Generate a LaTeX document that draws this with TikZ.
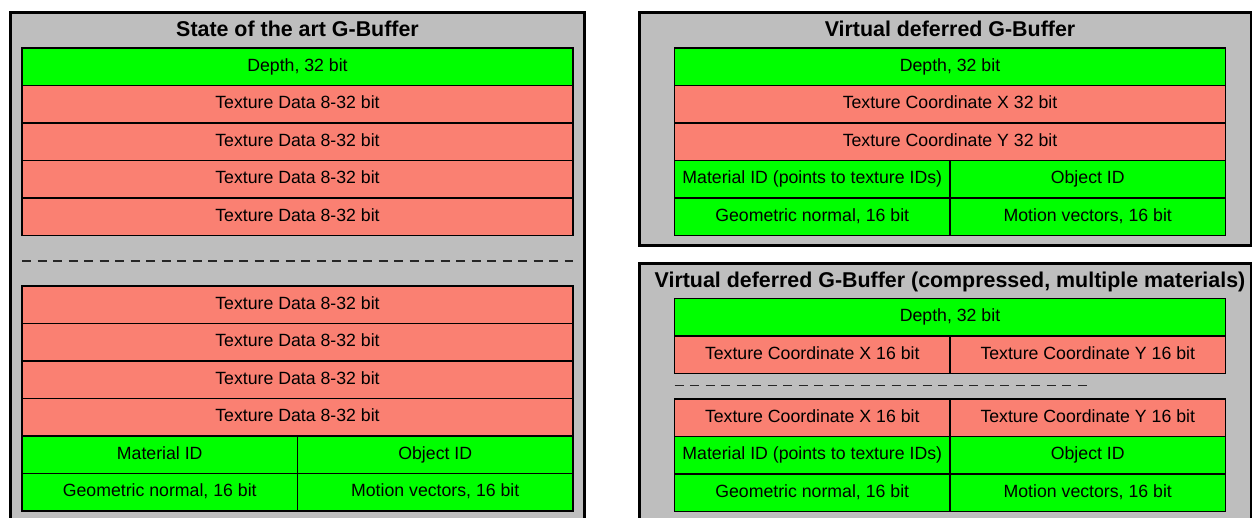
\documentclass[tikz,border=0pt]{standalone}
\usepackage{fontspec}
\setmainfont{Liberation Sans}
\usetikzlibrary{positioning,fit}
\definecolor{panelgray}{RGB}{190,190,190}
\definecolor{bufgreen}{RGB}{0,255,0}
\definecolor{bufsalmon}{RGB}{250,128,114}

\begin{document}
\begin{tikzpicture}[x=1pt, y=-1pt, node distance = 0pt, panel/.style={rectangle, draw, line width = 3pt, fill=panelgray, inner sep = 0pt}, title/.style={inner sep = 0pt, text height = 15pt, text depth = 4pt, font=\bfseries\fontsize{21.4}{24}\selectfont}, row/.style={rectangle, draw, line width = 1.5pt, minimum width = 551pt, minimum height = 37.5pt, inner sep = 0pt, outer sep = 0pt, text height = 13pt, text depth = 4pt, font=\fontsize{17.7}{20}\selectfont}, half/.style={row, minimum width = 275.5pt}, green/.style={fill=bufgreen}, salmon/.style={fill=bufsalmon}, gapline/.style={draw=black!85, line width = 1.4pt, dash pattern = on 9pt off 6.5pt}]
      \useasboundingbox (0,0) rectangle (1252,518);

      % left: state of the art
      \node [panel, fit={(10.5,13) (584.5,540)}] (stateBox) {};

      \node [row, green] (depthA) at (297.5,66.75) {Depth, 32 bit};

      \node [title, above = 7.5pt of depthA] (stateTitle) {State of the art G-Buffer};

      \node [row, salmon, below = of depthA] (texA1) {Texture Data 8-32 bit};

      \node [row, salmon, below = of texA1] (texA2) {Texture Data 8-32 bit};

      \node [row, salmon, below = of texA2] (texA3) {Texture Data 8-32 bit};

      \node [row, salmon, below = of texA3] (texA4) {Texture Data 8-32 bit};

      \node [row, salmon, below = 50.5pt of texA4] (texA5) {Texture Data 8-32 bit};

      \node [row, salmon, below = of texA5] (texA6) {Texture Data 8-32 bit};

      \node [row, salmon, below = of texA6] (texA7) {Texture Data 8-32 bit};

      \node [row, salmon, below = of texA7] (texA8) {Texture Data 8-32 bit};

      \node [half, green, anchor = north west] (matA) at (texA8.south west) {Material ID};

      \node [half, green, right = of matA] (objA) {Object ID};

      \node [half, green, below = of matA] (geoA) {Geometric normal, 16 bit};

      \node [half, green, below = of objA] (motA) {Motion vectors, 16 bit};

      \path[gapline] ([yshift=-25.5pt]texA4.south west) -- ([yshift=-25.5pt]texA4.south east);

      % right top: virtual deferred
      \node [panel, fit={(639,13) (1251.5,246)}] (virtBox) {};

      \node [row, green] (depthB) at (950,66.75) {Depth, 32 bit};

      \node [title, above = 7.5pt of depthB] (virtTitle) {Virtual deferred G-Buffer};

      \node [row, salmon, below = of depthB] (coordXB) {Texture Coordinate X 32 bit};

      \node [row, salmon, below = of coordXB] (coordYB) {Texture Coordinate Y 32 bit};

      \node [half, green, anchor = north west] (matB) at (coordYB.south west) {Material ID (points to texture IDs)};

      \node [half, green, right = of matB] (objB) {Object ID};

      \node [half, green, below = of matB] (geoB) {Geometric normal, 16 bit};

      \node [half, green, below = of objB] (motB) {Motion vectors, 16 bit};

      % right bottom: compressed, multiple materials
      \node [panel, fit={(639,263.5) (1251.5,540)}] (compBox) {};

      \node [row, green] (depthC) at (950,317.25) {Depth, 32 bit};

      \node [title, above = 7pt of depthC] (compTitle) {Virtual deferred G-Buffer (compressed, multiple materials)};

      \node [half, salmon, anchor = north west] (coordXC) at (depthC.south west) {Texture Coordinate X 16 bit};

      \node [half, salmon, right = of coordXC] (coordYC) {Texture Coordinate Y 16 bit};

      \node [half, salmon, below = 25.5pt of coordXC] (coordXD) {Texture Coordinate X 16 bit};

      \node [half, salmon, right = of coordXD] (coordYD) {Texture Coordinate Y 16 bit};

      \node [half, green, below = of coordXD] (matC) {Material ID (points to texture IDs)};

      \node [half, green, below = of coordYD] (objC) {Object ID};

      \node [half, green, below = of matC] (geoC) {Geometric normal, 16 bit};

      \node [half, green, below = of objC] (motC) {Motion vectors, 16 bit};

      \path[gapline] ([yshift=-12pt]coordXC.south west) -- ([xshift=-135pt, yshift=-12pt]coordYC.south east);
    \end{tikzpicture}
\end{document}
